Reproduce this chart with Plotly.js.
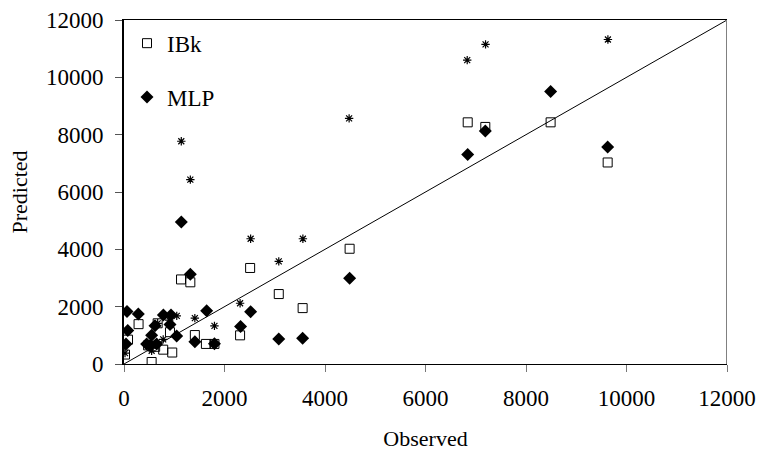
<!DOCTYPE html>
<html>
<head>
<meta charset="utf-8">
<script src="https://cdn.plot.ly/plotly-3.0.1.min.js"></script>
<style>html,body{margin:0;padding:0;background:#fff}#chart{width:760px;height:455px}</style>
</head>
<body>
<div id="chart"></div>
<script>
// IBk predictions
const ibkObserved  = [20, 80, 290, 480, 550, 620, 670, 780, 915, 960, 1135, 1320, 1410, 1630, 1800, 2310, 2510, 3080, 3555, 4490, 6840, 7190, 8490, 9625];
const ibkPredicted = [330, 850, 1390, 650, 70, 600, 1420, 500, 1110, 400, 2950, 2850, 1010, 700, 700, 1000, 3350, 2440, 1950, 4020, 8430, 8270, 8430, 7030];
// MLP predictions
const mlpObserved  = [40, 60, 75, 285, 450, 520, 550, 617, 650, 783, 915, 935, 1048, 1140, 1320, 1410, 1645, 1800, 2320, 2520, 3080, 3555, 4490, 6840, 7190, 8490, 9625];
const mlpPredicted = [700, 1830, 1170, 1740, 700, 640, 1000, 1330, 700, 1710, 1380, 1710, 980, 4950, 3130, 780, 1860, 710, 1310, 1825, 870, 895, 2990, 7310, 8125, 9510, 7570];
// Third (unlabelled) series
const otherObserved  = [20, 550, 600, 670, 780, 900, 1050, 1140, 1320, 1410, 1800, 2310, 2520, 3080, 3560, 4480, 6830, 7195, 9630];
const otherPredicted = [380, 460, 700, 1420, 860, 1530, 1680, 7770, 6430, 1600, 1330, 2120, 4370, 3580, 4370, 8570, 10600, 11150, 11320];
// Reference 1:1 line
const lineX = [0, 12000];
const lineY = [0, 12000];
const tickVals = [0, 2000, 4000, 6000, 8000, 10000, 12000];

const font = 'Liberation Serif, Times New Roman, serif';

const traces = [
  {x: lineX, y: lineY, mode: 'lines', line: {color: '#000', width: 1}, showlegend: false, hoverinfo: 'skip', cliponaxis: false},
  {x: otherObserved, y: otherPredicted, mode: 'markers', name: 'other', showlegend: false,
   marker: {symbol: 'asterisk-open', size: 7, color: '#000', line: {color: '#000', width: 1.2}}},
  {x: ibkObserved, y: ibkPredicted, mode: 'markers', name: 'IBk', legendgroup: 'a',
   marker: {symbol: 'square-open', size: 9, color: '#000', line: {color: '#000', width: 1}}},
  {x: mlpObserved, y: mlpPredicted, mode: 'markers', name: 'MLP', legendgroup: 'b',
   marker: {symbol: 'diamond', size: 10, color: '#000'}}
];

const layout = {
  width: 760, height: 455,
  margin: {l: 124, r: 33, t: 20, b: 91},
  paper_bgcolor: '#fff', plot_bgcolor: '#fff',
  font: {family: font, size: 22, color: '#000'},
  showlegend: true,
  legend: {x: 0.005, y: 0.995, xanchor: 'left', yanchor: 'top', bgcolor: 'rgba(0,0,0,0)',
           font: {family: font, size: 23}, traceorder: 'grouped', tracegroupgap: 21, itemsizing: 'trace'},
  xaxis: {range: [0, 12000], tickvals: tickVals, ticktext: tickVals.map(String),
          showgrid: false, zeroline: false, showline: true, linecolor: '#000', linewidth: 1, mirror: true,
          ticks: 'outside', ticklen: 7, tickcolor: '#777', tickwidth: 1, ticklabelstandoff: 6,
          tickfont: {family: font, size: 23}, title: {text: 'Observed', font: {family: font, size: 22}, standoff: 21}},
  yaxis: {range: [0, 12000], tickvals: tickVals, ticktext: tickVals.map(String),
          showgrid: false, zeroline: false, showline: true, linecolor: '#000', linewidth: 2,
          ticks: 'outside', ticklen: 7, tickcolor: '#555', tickwidth: 1, ticklabelstandoff: 7,
          tickfont: {family: font, size: 23}, title: {text: 'Predicted', font: {family: font, size: 22}, standoff: 12}},
  shapes: [{type: 'line', xref: 'x', yref: 'y', x0: 12000, x1: 12000, y0: 0, y1: 12000,
            line: {color: '#808080', width: 2}}]
};

Plotly.newPlot('chart', traces, layout, {staticPlot: true, displayModeBar: false});
</script>
</body>
</html>
